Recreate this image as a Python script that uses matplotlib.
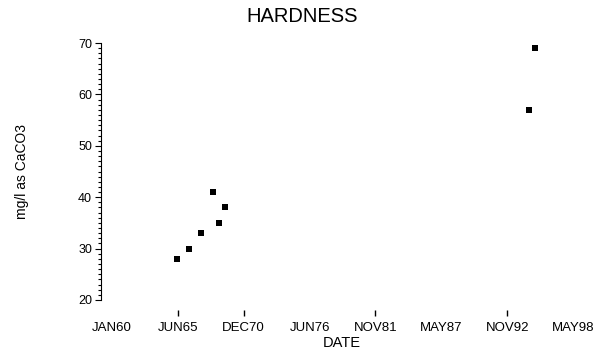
import numpy as np
import pandas as pd
import matplotlib
matplotlib.use("Agg")
import matplotlib.pyplot as plt
import matplotlib.ticker as ticker

sample_dates = ["1965-05-27", "1966-05-25", "1967-05-24", "1968-05-22",
                "1968-11-20", "1969-05-21", "1994-08-24", "1995-02-22"]
hardness = [28, 30, 33, 41, 35, 38, 57, 69]

tick_labels = ["JAN60", "JUN65", "DEC70", "JUN76",
               "NOV81", "MAY87", "NOV92", "MAY98"]
tick_days = [0, 2000, 4000, 6000, 8000, 10000, 12000, 14000]
hidden_ticks = [0, 3, 5, 7]  # these tick marks don't show in the original


def plot_hardness():
    base = pd.Timestamp("1960-01-01")
    x = (pd.to_datetime(sample_dates) - base).days.values

    W, H = 605, 354
    fig = plt.figure(figsize=(W / 100, H / 100), dpi=100)
    left, right, top, bottom = 101, 583, 43, 300
    ax = fig.add_axes([left / W, 1 - bottom / H,
                       (right - left) / W, (bottom - top) / H])

    ax.plot(x, hardness, "s", color="k", ms=4.2, mew=0)

    ax.set_ylim(20, 70)
    ax.set_xlim(-334, 14300)
    ax.yaxis.set_major_locator(ticker.MultipleLocator(10))
    ax.yaxis.set_minor_locator(ticker.MultipleLocator(1))
    ax.tick_params(axis="y", which="major", length=4.5, width=0.8,
                   direction="out", pad=2, labelsize=9)
    ax.tick_params(axis="y", which="minor", length=2.5, width=0.8,
                   direction="out")

    ax.set_xticks(tick_days)
    ax.set_xticklabels(tick_labels)
    ax.tick_params(axis="x", length=4, width=1.0, direction="out",
                   pad=5, labelsize=9.5, color="k")
    ax.spines["bottom"].set_position(("outward", 7))
    for i, t in enumerate(ax.xaxis.get_major_ticks()):
        if i in hidden_ticks:
            t.tick1line.set_visible(False)

    for s in ["top", "right", "bottom"]:
        ax.spines[s].set_visible(False)
    ax.spines["left"].set_linewidth(0.8)

    ax.set_xlabel("DATE", fontsize=10.5, labelpad=1)
    ax.set_ylabel("mg/l as CaCO3", fontsize=10)
    ax.yaxis.set_label_coords(-(left - 29) / (right - left), 0.5)
    fig.text(302 / W, 1 - 16 / H, "HARDNESS", ha="center", va="center",
             fontsize=14.5)

    fig.savefig("out.png", dpi=100)
    return


if __name__ == "__main__":
    plt.rcParams.update({"font.family": ["Liberation Sans", "DejaVu Sans"]})
    plot_hardness()
